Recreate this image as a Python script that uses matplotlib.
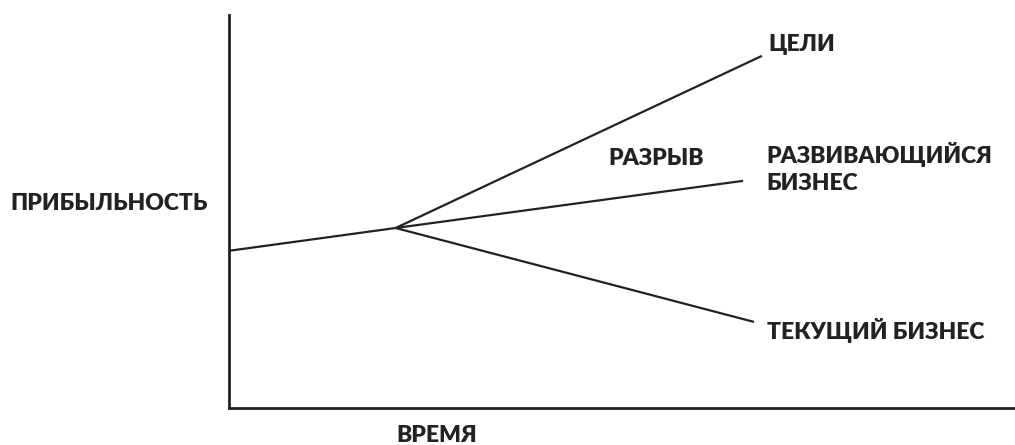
import matplotlib
matplotlib.use("Agg")
import matplotlib.pyplot as plt

# Data (arbitrary units: time vs profitability)
base_x = [0.0, 2.12]
base_y = [4.0, 4.58]
goal_x = [2.12, 6.78]
goal_y = [4.58, 8.96]
dev_x = [2.12, 6.54]
dev_y = [4.58, 5.78]
cur_x = [2.12, 6.68]
cur_y = [4.58, 2.19]

labels = {
    "goal": "ЦЕЛИ",
    "gap": "РАЗРЫВ",
    "dev": "РАЗВИВАЮЩИЙСЯ\nБИЗНЕС",
    "cur": "ТЕКУЩИЙ БИЗНЕС",
    "ylabel": "ПРИБЫЛЬНОСТЬ",
    "xlabel": "ВРЕМЯ",
}

plt.rcParams['font.family'] = ['Lato', 'DejaVu Sans']
col = '#222222'

fig = plt.figure(figsize=(10.15, 4.45), dpi=100)
ax = fig.add_axes([229/1015, 1 - 408/445, 1 - 229/1015, (408 - 15)/445])
ax.set_xlim(0, 10)
ax.set_ylim(0, 10)

for xs, ys in [(base_x, base_y), (goal_x, goal_y), (dev_x, dev_y), (cur_x, cur_y)]:
    ax.plot(xs, ys, color=col, lw=1.6, solid_capstyle='butt')

for s in ['top', 'right']:
    ax.spines[s].set_visible(False)
for s in ['left', 'bottom']:
    ax.spines[s].set_color(col)
    ax.spines[s].set_linewidth(2)
ax.set_xticks([])
ax.set_yticks([])

fs = 16.5
kw = dict(fontsize=fs, fontweight='heavy', color=col)
ax.text(goal_x[1] + 0.08, goal_y[1] + 0.28, labels["goal"], ha='left', va='center', **kw)
ax.text(4.83, 6.35, labels["gap"], ha='left', va='center', **kw)
ax.text(dev_x[1] + 0.3, 6.1, labels["dev"], ha='left', va='center', linespacing=1.35, **kw)
ax.text(cur_x[1] + 0.16, 1.98, labels["cur"], ha='left', va='center', **kw)

fig.text(10/1015, 1 - 203/445, labels["ylabel"], ha='left', va='center', **kw)
fig.text(437/1015, 1 - 436/445, labels["xlabel"], ha='center', va='center', **kw)

fig.savefig('out.png', dpi=100)
